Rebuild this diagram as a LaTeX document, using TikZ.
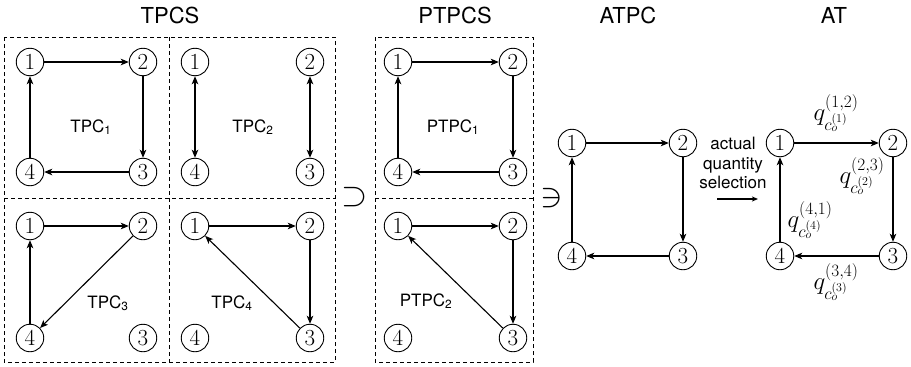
\documentclass[tikz,border=0pt]{standalone}
\usepackage{fontspec}
\newfontfamily\hv{TeX Gyre Heros}
\usetikzlibrary{arrows.meta}
\tikzset{
  nd/.style={draw, circle, line width=0.9pt, minimum size=27.5pt, inner sep=0pt, font=\fontsize{23}{23}\selectfont},
  ar/.style={line width=1.1pt, -{Stealth[length=8pt,width=6.5pt,inset=2pt]}},
  dar/.style={line width=1.4pt, {Stealth[length=8pt,width=6.5pt,inset=2pt]}-{Stealth[length=8pt,width=6.5pt,inset=2pt]}},
  dbox/.style={line width=0.8pt, dash pattern=on 4pt off 3pt},
  ttl/.style={font=\hv\fontsize{22}{22}\selectfont},
  lbl/.style={font=\hv\fontsize{17}{17}\selectfont, anchor=base},
  ml/.style={font=\fontsize{24}{24}\selectfont},
  sym/.style={font=\fontsize{24.88}{24.88}\selectfont, scale=1.35},
}
\newcommand\quadnodes[5]{%
  \node[nd] (#1-1) at (#2,-#4) {1};
  \node[nd] (#1-2) at (#3,-#4) {2};
  \node[nd] (#1-3) at (#3,-#5) {3};
  \node[nd] (#1-4) at (#2,-#5) {4};}
\begin{document}
\begin{tikzpicture}[x=1pt,y=1pt]
\useasboundingbox (0,0) rectangle (911,-367);
% titles
\node[ttl] (t1) at (170,-15) {TPCS};
\node[ttl] (t2) at (455,-15) {PTPCS};
\node[ttl] (t3) at (628,-15) {ATPC};
\node[ttl] (t4) at (834,-15) {AT};
% dashed boxes
\draw[dbox] (4,-37) rectangle (335,-362);
\draw[dbox] (169,-37) -- (169,-362);
\draw[dbox] (4,-198) -- (335,-198);
\draw[dbox] (375,-37) rectangle (533,-362);
\draw[dbox] (375,-198) -- (533,-198);
% TPC1
\quadnodes{a}{30}{143}{62}{172}
\draw[ar] (a-1) -- (a-2);
\draw[ar] (a-2) -- (a-3);
\draw[ar] (a-3) -- (a-4);
\draw[ar] (a-4) -- (a-1);
\node[lbl] (la) at (91,-132) {TPC\textsubscript{1}};
% TPC2
\quadnodes{b}{195}{310}{62}{172}
\draw[dar] (b-1) -- (b-4);
\draw[dar] (b-2) -- (b-3);
\node[lbl] (lb) at (253,-132) {TPC\textsubscript{2}};
% TPC3
\quadnodes{c}{30}{143}{226}{338}
\draw[ar] (c-1) -- (c-2);
\draw[ar] (c-2) -- (c-4);
\draw[ar] (c-4) -- (c-1);
\node[lbl] (lc) at (108,-308) {TPC\textsubscript{3}};
% TPC4
\quadnodes{d}{195}{310}{226}{338}
\draw[ar] (d-1) -- (d-2);
\draw[ar] (d-2) -- (d-3);
\draw[ar] (d-3) -- (d-1);
\node[lbl] (ld) at (232,-308) {TPC\textsubscript{4}};
% PTPC1
\quadnodes{e}{398}{513}{62}{172}
\draw[ar] (e-1) -- (e-2);
\draw[ar] (e-2) -- (e-3);
\draw[ar] (e-3) -- (e-4);
\draw[ar] (e-4) -- (e-1);
\node[lbl] (le) at (453,-132) {PTPC\textsubscript{1}};
% PTPC2
\quadnodes{f}{398}{513}{226}{338}
\draw[ar] (f-1) -- (f-2);
\draw[ar] (f-2) -- (f-3);
\draw[ar] (f-3) -- (f-1);
\node[lbl] (lf) at (426,-306) {PTPC\textsubscript{2}};
% symbols
\node[sym] (sup) at (355,-197) {$\supset$};
\node[sym] (ni) at (552,-198) {$\ni$};
% ATPC
\quadnodes{g}{572}{683}{143}{256}
\draw[ar] (g-1) -- (g-2);
\draw[ar] (g-2) -- (g-3);
\draw[ar] (g-3) -- (g-4);
\draw[ar] (g-4) -- (g-1);
% selection text and arrow
\node[font=\hv\fontsize{17}{19.5}\selectfont, align=center] (sel) at (733,-163) {actual\\quantity\\selection};
\coordinate (s1) at (717,-199);
\coordinate (s2) at (758,-199);
\draw[line width=1.1pt, -{Stealth[length=6pt,width=5pt,inset=1.5pt]}] (s1) -- (s2);
% AT
\quadnodes{h}{780}{893}{143}{256}
\draw[ar] (h-1) -- (h-2);
\draw[ar] (h-2) -- (h-3);
\draw[ar] (h-3) -- (h-4);
\draw[ar] (h-4) -- (h-1);
\node[ml] (q12) at (836,-113) {$q_{c_o^{(1)}}^{(1,2)}$};
\node[ml] (q23) at (862,-176) {$q_{c_o^{(2)}}^{(2,3)}$};
\node[ml] (q41) at (810,-220) {$q_{c_o^{(4)}}^{(4,1)}$};
\node[ml] (q34) at (836,-282) {$q_{c_o^{(3)}}^{(3,4)}$};
\end{tikzpicture}
\end{document}
